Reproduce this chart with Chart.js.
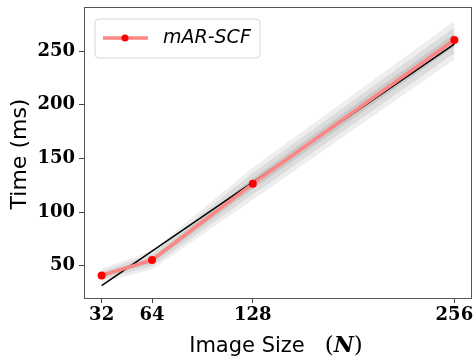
<!DOCTYPE html>
<html>
<head>
<meta charset="utf-8">
<script src="https://cdn.jsdelivr.net/npm/chart.js@4/dist/chart.umd.min.js"></script>
<style>
  html, body { margin: 0; padding: 0; background: #fff; }
  #wrap { width: 476px; height: 360px; }
</style>
</head>
<body>
<div id="wrap"><canvas id="timeChart" width="476" height="360"></canvas></div>
<script>
// Image sizes and measured run times (ms)
const sizes = [32, 64, 128, 256];
const xTicks = [32, 64, 128, 256];
const yTicks = [50, 100, 150, 200, 250];
const timeMs = [41, 55.3, 126.5, 260.3];
// linear fit (black line)
const fitMs = [31.5, 63.6, 127.9, 256.5];
// shaded spread bands, inner to outer
const innerHi = [43, 58, 131.5, 266];
const innerLo = [39, 52.5, 121.5, 254];
const midHi = [45, 61, 136.5, 272];
const midLo = [37, 49.5, 116.5, 248];
const outerHi = [47.5, 64, 141.5, 278];
const outerLo = [34.5, 46.5, 111.5, 242];

const seriesLabel = 'mAR-SCF';
const lineColor = '#ff8484';

function pts(vals) {
    return sizes.map((s, i) => ({ x: s, y: vals[i] }));
}

function band(vals, color, fillTo) {
    return {
        data: pts(vals),
        borderWidth: 0,
        pointRadius: 0,
        backgroundColor: color,
        fill: fillTo,
        tension: 0
    };
}

// border, axis titles and legend drawn by hand
const decorations = {
    id: 'decorations',
    afterDraw(chart) {
        const ctx = chart.ctx;
        const a = chart.chartArea;
        ctx.save();
        ctx.strokeStyle = '#555';
        ctx.lineWidth = 1;
        ctx.strokeRect(Math.round(a.left) + 0.5, Math.round(a.top) + 0.5,
            Math.round(a.right - a.left) - 1, Math.round(a.bottom - a.top));

        // x title: Image Size (N)
        ctx.fillStyle = '#000';
        ctx.textBaseline = 'alphabetic';
        ctx.textAlign = 'left';
        const sansFont = '21px "DejaVu Sans"';
        const parenFont = '23px "DejaVu Serif"';
        const nFont = 'italic bold 22px "DejaVu Serif"';
        const parts = [
            ['Image Size', sansFont],
            ['   ', sansFont],
            ['(', parenFont],
            ['N', nFont],
            [')', parenFont]
        ];
        let total = 0;
        parts.forEach(p => { ctx.font = p[1]; total += ctx.measureText(p[0]).width; });
        let x = 276 - total / 2;
        const baseY = 352;
        parts.forEach(p => {
            ctx.font = p[1];
            ctx.fillText(p[0], x, baseY);
            x += ctx.measureText(p[0]).width;
        });

        // y title
        ctx.save();
        ctx.translate(20, 154);
        ctx.rotate(-Math.PI / 2);
        ctx.font = '22px "DejaVu Sans"';
        ctx.textAlign = 'center';
        ctx.textBaseline = 'middle';
        ctx.fillText('Time (ms)', 0, 0);
        ctx.restore();

        // legend
        const lx = 95, ly = 19, lw = 165, lh = 39, r = 4;
        ctx.beginPath();
        ctx.moveTo(lx + r, ly);
        ctx.arcTo(lx + lw, ly, lx + lw, ly + lh, r);
        ctx.arcTo(lx + lw, ly + lh, lx, ly + lh, r);
        ctx.arcTo(lx, ly + lh, lx, ly, r);
        ctx.arcTo(lx, ly, lx + lw, ly, r);
        ctx.closePath();
        ctx.fillStyle = 'rgba(255,255,255,0.8)';
        ctx.fill();
        ctx.strokeStyle = '#d6d6d6';
        ctx.stroke();

        const my = ly + 19;
        ctx.strokeStyle = lineColor;
        ctx.lineWidth = 3.5;
        ctx.beginPath();
        ctx.moveTo(103, my);
        ctx.lineTo(148, my);
        ctx.stroke();
        ctx.fillStyle = '#ff0000';
        ctx.beginPath();
        ctx.arc(125, my, 3.5, 0, Math.PI * 2);
        ctx.fill();

        ctx.fillStyle = '#000';
        ctx.font = 'italic 19px "DejaVu Sans"';
        ctx.textAlign = 'left';
        ctx.textBaseline = 'middle';
        ctx.fillText(seriesLabel, 163, my);
        ctx.restore();
    }
};

const tickFont = { family: '"DejaVu Serif"', size: 18, weight: 'bold' };

new Chart(document.getElementById('timeChart').getContext('2d'), {
    type: 'line',
    data: {
        datasets: [
            {
                label: seriesLabel,
                data: pts(timeMs),
                borderColor: lineColor,
                borderWidth: 3.5,
                pointRadius: 4,
                pointBackgroundColor: '#ff0000',
                pointBorderWidth: 0,
                fill: false,
                tension: 0
            },
            {
                label: 'fit',
                data: pts(fitMs),
                borderColor: '#000',
                borderWidth: 1.5,
                pointRadius: 0,
                fill: false,
                tension: 0
            },
            band(innerHi, '#c8c8c8', '+1'),
            band(innerLo, '#c8c8c8', false),
            band(midHi, '#dcdcdc', '+1'),
            band(midLo, '#dcdcdc', false),
            band(outerHi, '#eeeeee', '+1'),
            band(outerLo, '#eeeeee', false)
        ]
    },
    options: {
        responsive: false,
        animation: false,
        layout: { padding: { top: 7, right: 2, left: 0, bottom: 0 } },
        plugins: {
            legend: { display: false },
            tooltip: { enabled: false }
        },
        scales: {
            x: {
                type: 'linear',
                min: 20.8,
                max: 267.2,
                afterBuildTicks: scale => { scale.ticks = xTicks.map(v => ({ value: v })); },
                afterFit: scale => {
                    scale.height = 62;
                    scale.paddingLeft = 0;
                    scale.paddingRight = 0;
                },
                grid: { display: true, drawOnChartArea: false, tickLength: 5, color: '#444' },
                border: { display: false },
                ticks: { font: tickFont, color: '#000', padding: 2, maxRotation: 0 }
            },
            y: {
                type: 'linear',
                min: 20,
                max: 291,
                afterBuildTicks: scale => { scale.ticks = yTicks.map(v => ({ value: v })); },
                afterFit: scale => {
                    scale.width = 84;
                    scale.paddingTop = 0;
                    scale.paddingBottom = 0;
                },
                grid: { display: true, drawOnChartArea: false, tickLength: 5, color: '#444' },
                border: { display: false },
                ticks: { font: tickFont, color: '#000', padding: 4 }
            }
        }
    },
    plugins: [decorations]
});
</script>
</body>
</html>
